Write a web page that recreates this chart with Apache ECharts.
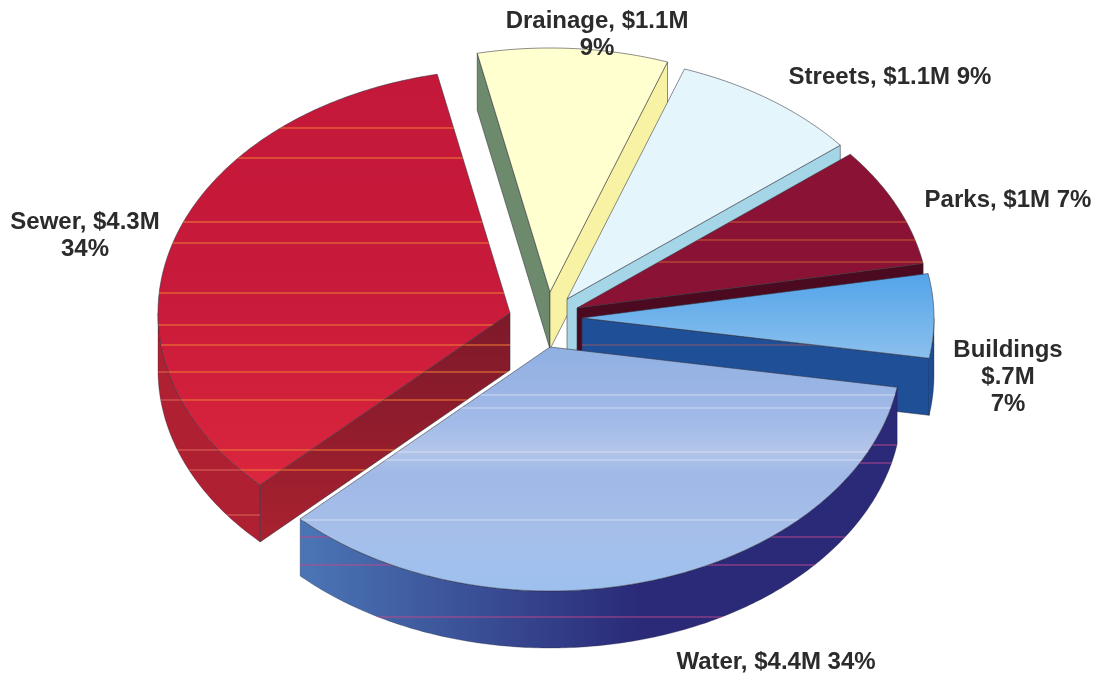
<!DOCTYPE html>
<html>
<head>
<meta charset="utf-8">
<style>html,body{margin:0;padding:0;background:#fff}#c{width:1097px;height:679px}</style>
<script src="https://cdn.jsdelivr.net/npm/echarts@6/dist/echarts.min.js"></script>
</head>
<body>
<div id="c"></div>
<script>
// Data
const categories = ['Buildings', 'Water', 'Sewer', 'Drainage', 'Streets', 'Parks'];
const amounts = [0.7, 4.4, 4.3, 1.1, 1.1, 1.0];
const labelTexts = ['Buildings\n$.7M\n7%', 'Water, $4.4M 34%', 'Sewer, $4.3M\n34%', 'Drainage, $1.1M\n9%', 'Streets, $1.1M 9%', 'Parks, $1M 7%'];

// Layout (pie geometry, not data)
const CX = 548, CY = 325, RX = 352, RY = 244, DEPTH = 57, START = -10.5;
const explode = {Buildings:[34,-7], Water:[2,22], Sewer:[-38,-12], Drainage:[2,-33], Streets:[19,-26], Parks:[29,-17]};
const drawOrder = {Drainage:1, Streets:2, Parks:3, Buildings:4, Sewer:5, Water:6};
const labelAt = {Buildings:[1008,377], Water:[776,662], Sewer:[85,236], Drainage:[597,35], Streets:[890,77], Parks:[1008,200]};

const H = 679;
function lines(tint, ys) { // thin scan streaks over a face, transparent between them
  const clear = tint.replace(/[\d.]+\)$/, '0)'), stops = [];
  ys.slice().sort((a,b)=>a-b).forEach(y => {
    stops.push({offset:(y-1.5)/H,color:clear},{offset:y/H,color:tint},{offset:(y+1.5)/H,color:clear});
  });
  return {type:'linear',global:true,x:0,y:0,x2:0,y2:H,colorStops:stops};
}
function band(stops){
  return {type:'linear',global:true,x:0,y:0,x2:0,y2:H,colorStops:stops.map(s=>({offset:s[0]/H,color:s[1]}))};
}
function across(c0,c1,x0,x1){
  return {type:'linear',global:true,x:x0,y:0,x2:x1,y2:0,colorStops:[{offset:0,color:c0},{offset:1,color:c1}]};
}
const orange = 'rgba(240,120,50,0.8)';
const style = {
  Sewer:    {top:band([[70,'#c4183a'],[300,'#c81a3a'],[480,'#da263e']]), topLines:lines(orange,[128,158,222,243,293,325,345,372,400,450,470]),
             rim:'#ae2032', rimLines:lines('rgba(235,120,100,0.6)',[372,400,450,470,515]),
             cut:band([[313,'#7d1a2a'],[420,'#8f1c2c'],[540,'#aa2230']]), cutLines:lines(orange,[345,372,400,450,470])},
  Water:    {top:band([[345,'#8fb0e2'],[395,'#9cb6e6'],[425,'#a3bbe8'],[450,'#b3c6ea'],[475,'#9fb8e6'],[530,'#a6bfea'],[590,'#9ec0ee']]),
             topLines:lines('rgba(225,230,245,0.55)',[395,408,452,460,520]),
             rim:across('#4a74b4','#2a2a78',310,640), rimLines:lines('rgba(190,70,140,0.7)',[445,463,537,565,617]), cut:'#2a3a88'},
  Buildings:{top:band([[276,'#55a4ea'],[320,'#72b4ec'],[360,'#8cc0ee']]), rim:'#1d4c94', cut:'#1f4f96', cutLines:lines('rgba(190,90,80,0.5)',[345])},
  Parks:    {top:'#8a1234', topLines:lines('rgba(205,90,50,0.75)',[222,240,262]), rim:'#4c0a20', cut:'#4c0a20'},
  Streets:  {top:'#e4f5fb', rim:'#a5d6e8', cut:'#a5d6e8'},
  Drainage: {top:'#ffffcf', rim:'#f8f3a4', cut:'#f8f3a4', cutStart:'#6e8a6c'}
};

const total = amounts.reduce((a,b)=>a+b,0);
function renderItem(params, api) {
  const i = params.dataIndex, name = categories[i];
  let before = 0;
  for (let k=0;k<i;k++) before += amounts[k];
  const a0 = START + before/total*360, a1 = a0 + api.value(0)/total*360;
  const off = explode[name], ox = CX+off[0], oy = CY+off[1], s = style[name], z = drawOrder[name]*10;
  const pt = (deg,d) => { const r=deg*Math.PI/180; return [ox+RX*Math.cos(r), oy+RY*Math.sin(r)+(d||0)]; };
  const arc = (from,to,d) => { const out=[]; const n=Math.max(2,Math.ceil((to-from)*1.5)); for(let j=0;j<=n;j++) out.push(pt(from+(to-from)*j/n,d)); return out; };
  const apex = [ox,oy], apexLow=[ox,oy+DEPTH];
  const edge = {stroke:'rgba(50,50,60,0.55)',lineWidth:1};
  const children = [];
  const face = (points,fill,streak,z2,st) => {
    children.push({type:'polygon',z2,shape:{points},style:Object.assign({fill},st)});
    if (streak) children.push({type:'polygon',z2,shape:{points},style:{fill:streak}});
  };
  // cut faces, only those that turn towards the viewer
  if (Math.cos(a0*Math.PI/180) < 0) face([apex,pt(a0),pt(a0,DEPTH),apexLow], s.cutStart||s.cut, s.cutLines, z+1, edge);
  if (Math.cos(a1*Math.PI/180) > 0) face([apex,pt(a1),pt(a1,DEPTH),apexLow], s.cut, s.cutLines, z+1, edge);
  // outer rim, front half only
  const r0 = Math.max(a0,0), r1 = Math.min(a1,180);
  if (r1>r0) face(arc(r0,r1,0).concat(arc(r0,r1,DEPTH).reverse()), s.rim, s.rimLines, z+2, {stroke:'rgba(30,30,50,0.3)',lineWidth:1});
  // top
  face([apex].concat(arc(a0,a1,0)), s.top, s.topLines, z+3, edge);
  const la = labelAt[name];
  children.push({type:'text',z2:100,x:la[0],y:la[1],style:{text:labelTexts[i],fill:'#2b2b2b',font:'bold 24px "Liberation Sans", Arial, sans-serif',lineHeight:27,align:'center',verticalAlign:'middle'}});
  return {type:'group',children};
}

const chart = echarts.init(document.getElementById('c'), null, {renderer:'canvas'});
chart.setOption({
  backgroundColor:'#ffffff',
  animation:false,
  series:[{type:'custom',coordinateSystem:'none',renderItem,data:categories.map((n,i)=>({name:n,value:[amounts[i]]}))}]
});
</script>
</body>
</html>
